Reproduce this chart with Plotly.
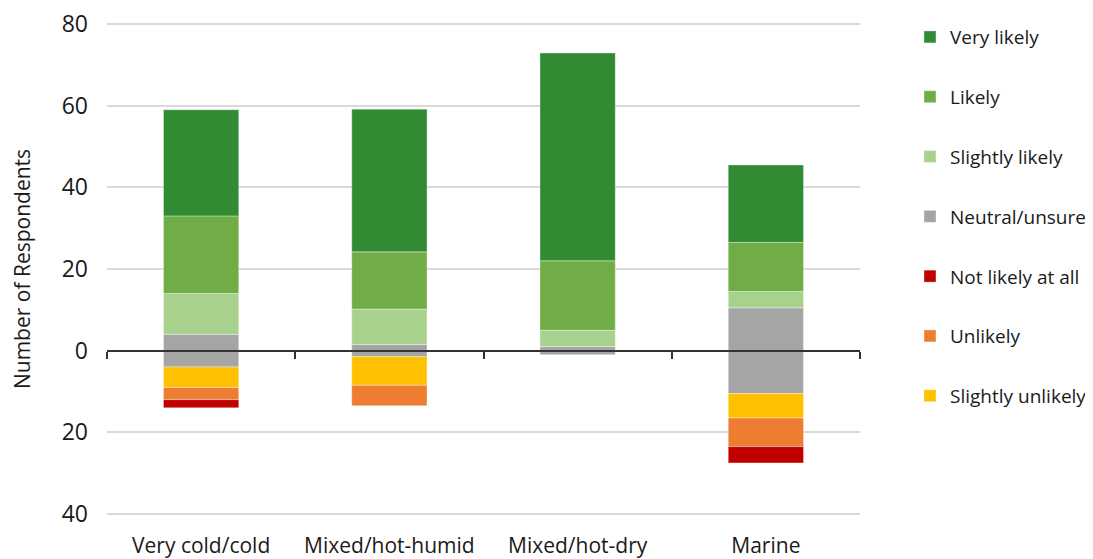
import plotly.graph_objects as go

categories = ["Very cold/cold", "Mixed/hot-humid", "Mixed/hot-dry", "Marine"]

very_likely = [26, 35, 51, 19]
likely = [19, 14, 17, 12]
slightly_likely = [10, 8.7, 4, 4]
neutral = [8, 3, 2, 21]
slightly_unlikely = [5, 7, 0, 6]
unlikely = [3, 5, 0, 7]
not_likely = [2, 0, 0, 4]

y_tickvals = [80, 60, 40, 20, 0, -20, -40]
y_ticktext = ["80", "60", "40", "20", "0", "20", "40"]

colors = {
    "Very likely": "#318B33",
    "Likely": "#70AD47",
    "Slightly likely": "#A9D18E",
    "Neutral/unsure": "#A5A5A5",
    "Not likely at all": "#C00000",
    "Unlikely": "#ED7D31",
    "Slightly unlikely": "#FFC000",
}
rank = {n: i for i, n in enumerate(colors)}

FONT = "Open Sans"
fig = go.Figure()


def add(name, vals, sign=1, show=True):
    fig.add_trace(go.Bar(
        x=categories, y=[sign * v for v in vals], name=name,
        marker=dict(color=colors[name], line=dict(color="rgba(255,255,255,0.6)", width=0.6)),
        width=0.4, showlegend=show, legendgroup=name, legendrank=rank[name] + 1,
    ))


half = [v / 2 for v in neutral]
add("Neutral/unsure", half, 1, True)
add("Slightly likely", slightly_likely)
add("Likely", likely)
add("Very likely", very_likely)
add("Neutral/unsure", half, -1, False)
add("Slightly unlikely", slightly_unlikely, -1)
add("Unlikely", unlikely, -1)
add("Not likely at all", not_likely, -1)

# page body has an 8px margin, so the figure is made 8px smaller and margins shifted
fig.update_layout(
    barmode="relative",
    width=1085, height=551,
    margin=dict(l=99, r=233, t=15, b=44, autoexpand=False),
    plot_bgcolor="white", paper_bgcolor="white",
    font=dict(family=FONT, color="#1a1a1a"),
    showlegend=True,
    legend=dict(x=1.0664, y=1.010, xanchor="left", yanchor="top",
                font=dict(size=19, family=FONT), tracegroupgap=32.1,
                itemwidth=30, bgcolor="rgba(0,0,0,0)", maxheight=540),
    xaxis=dict(showline=False, ticks="", showgrid=False,
               tickfont=dict(size=21, family=FONT),
               ticklabelstandoff=16, ticklabeloverflow="allow"),
    xaxis2=dict(overlaying="x", matches="x", anchor="free", position=1/3,
                showline=True, linecolor="#333333", linewidth=1.5,
                ticks="outside", tickson="boundaries", ticklen=7,
                tickcolor="#333333", tickwidth=1.5,
                showticklabels=False, showgrid=False),
    yaxis=dict(range=[-40.25, 80.25], tickvals=y_tickvals, ticktext=y_ticktext,
               showgrid=True, gridcolor="#D9D9D9", gridwidth=1.5,
               zeroline=False, showline=False, ticks="",
               tickfont=dict(size=23, family=FONT), ticklabelstandoff=18,
               ticklabeloverflow="allow",
               title=dict(text="Number of Respondents", font=dict(size=21, family=FONT), standoff=28)),
)
fig.add_trace(go.Bar(x=categories, y=[0] * len(categories), xaxis="x2",
                     showlegend=False, hoverinfo="skip", marker=dict(opacity=0)))

fig.write_html("out.html")
